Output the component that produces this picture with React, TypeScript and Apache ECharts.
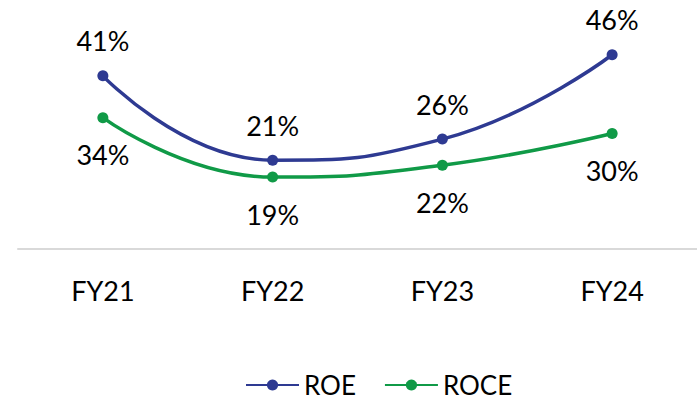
import React, { useEffect, useRef } from "react";
import * as echarts from "echarts";

const categories = ["FY21", "FY22", "FY23", "FY24"];
const roe = [41, 21, 26, 46];
const roce = [34, 19, 22, 30];
const seriesNames = ["ROE", "ROCE"];
const colors = ["#2E3A92", "#109A47"];

const FONT = "Lato";

export default function App() {
  const ref = useRef<HTMLDivElement>(null);
  useEffect(() => {
    if (!ref.current) return;
    const chart = echarts.init(ref.current, undefined, { renderer: "svg" });
    const labelStyle = {
      show: true,
      fontSize: 27,
      fontFamily: FONT,
      color: "#000",
      formatter: (p: any) => `${p.value}%`,
    };
    chart.setOption({
      animation: false,
      backgroundColor: "#fff",
      grid: { left: 18, width: 700, top: 40, bottom: 150, containLabel: false },
      xAxis: {
        type: "category",
        data: categories,
        boundaryGap: true,
        axisLine: { lineStyle: { color: "#D9D9D9", width: 2 } },
        axisTick: { show: false },
        axisLabel: { fontSize: 27, fontFamily: FONT, color: "#000", margin: 27 },
      },
      yAxis: [
        { type: "value", min: -0.3, max: 49.5, show: false, splitLine: { show: false } },
        { type: "value", min: 0.6, max: 53.6, show: false, splitLine: { show: false } },
      ],
      legend: {
        data: seriesNames,
        left: 245,
        top: 371,
        padding: 0,
        itemWidth: 53,
        itemHeight: 14,
        itemGap: 28,
        textStyle: { fontSize: 26, lineHeight: 28, fontFamily: FONT, color: "#000" },
      },
      series: [
        {
          name: seriesNames[0],
          type: "line",
          yAxisIndex: 0,
          data: roe,
          smooth: 0.5,
          symbol: "circle",
          symbolSize: 11,
          color: colors[0],
          lineStyle: { width: 3.5, color: colors[0] },
          itemStyle: { color: colors[0] },
          label: { ...labelStyle, position: "top", distance: 16 },
        },
        {
          name: seriesNames[1],
          type: "line",
          yAxisIndex: 1,
          data: roce,
          smooth: 0.5,
          symbol: "circle",
          symbolSize: 11,
          color: colors[1],
          lineStyle: { width: 3.5, color: colors[1] },
          itemStyle: { color: colors[1] },
          label: { ...labelStyle, position: "bottom", distance: 18 },
        },
      ],
    });
    return () => chart.dispose();
  }, []);
  return (
    <div
      ref={ref}
      style={{ position: "fixed", left: 0, top: 0, width: 697, height: 400 }}
    />
  );
}
